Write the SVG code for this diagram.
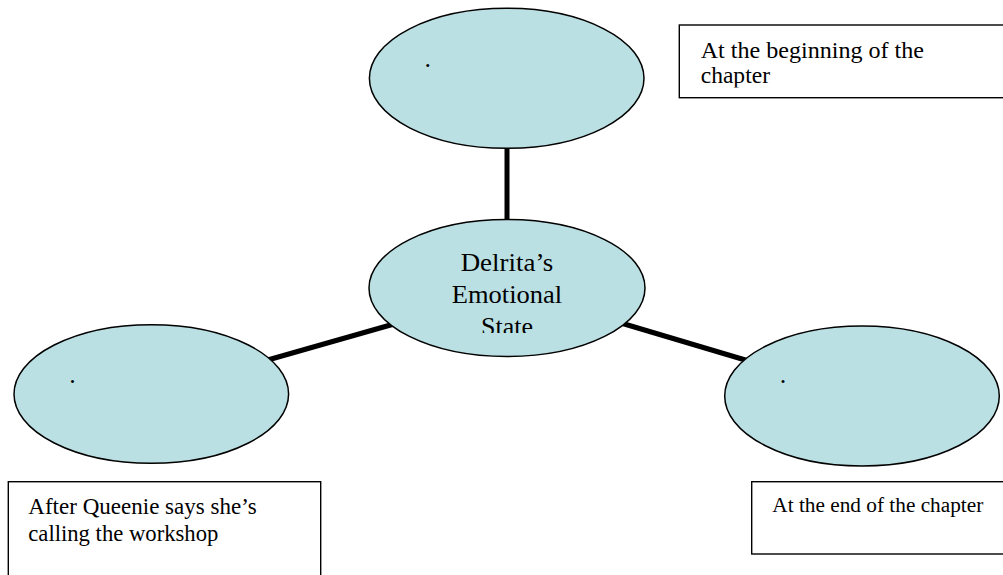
<svg xmlns="http://www.w3.org/2000/svg" width="1003" height="575" viewBox="0 0 1003 575" font-family="'Liberation Serif', 'Times New Roman', Times, serif">
<style>
.node ellipse{fill:#BBE0E3;stroke:#000;stroke-width:1.5}
.box rect{fill:#fff;stroke:#000;stroke-width:1.4}
.conn line{stroke:#000;stroke-width:5;stroke-linecap:butt}
</style>
<defs>
<clipPath id="clipCenter"><rect x="360" y="230" width="300" height="103"/></clipPath>
<clipPath id="clipTR"><rect x="680" y="26" width="330" height="61.5"/></clipPath>
</defs>
<rect width="1003" height="575" fill="#fff"/>
<g id="connectors" class="conn">
<line x1="507" y1="146" x2="507" y2="222"/>
<line x1="266" y1="360.5" x2="394" y2="324"/>
<line x1="621" y1="323" x2="747" y2="360.5"/>
</g>
<g id="node-top" class="node">
<ellipse cx="506.7" cy="78.3" rx="137.3" ry="70"/>
<text x="424.5" y="67" font-size="26">.</text>
</g>
<g id="node-center" class="node">
<ellipse cx="507" cy="288" rx="138" ry="68.5"/>
<g clip-path="url(#clipCenter)" font-size="26" text-anchor="middle">
<text x="507" y="271" textLength="92.7" lengthAdjust="spacingAndGlyphs">Delrita’s</text>
<text x="507" y="302.5" textLength="110.3" lengthAdjust="spacingAndGlyphs">Emotional</text>
<text x="507" y="334.5" textLength="52" lengthAdjust="spacingAndGlyphs">State</text>
</g>
</g>
<g id="node-left" class="node">
<ellipse cx="151.3" cy="394" rx="137.3" ry="69.3"/>
<text x="69.2" y="383.3" font-size="26">.</text>
</g>
<g id="node-right" class="node">
<ellipse cx="862" cy="396" rx="137.3" ry="70"/>
<text x="779.8" y="383.3" font-size="26">.</text>
</g>
<g id="label-top-right" class="box">
<rect x="679.3" y="25" width="340" height="72.7"/>
<g clip-path="url(#clipTR)" font-size="23">
<text x="700.7" y="57.5" textLength="223.3" lengthAdjust="spacingAndGlyphs">At the beginning of the</text>
<text x="700.7" y="83.3" textLength="69.3" lengthAdjust="spacingAndGlyphs">chapter</text>
</g>
</g>
<g id="label-bottom-left" class="box">
<rect x="8.3" y="481.7" width="312.4" height="110"/>
<text x="28.3" y="514" font-size="23" textLength="228.3" lengthAdjust="spacingAndGlyphs">After Queenie says she’s</text>
<text x="28.3" y="540.7" font-size="23" textLength="190" lengthAdjust="spacingAndGlyphs">calling the workshop</text>
</g>
<g id="label-bottom-right" class="box">
<rect x="751.7" y="481.7" width="270" height="72.3"/>
<text x="772.3" y="511.7" font-size="20.5" textLength="211" lengthAdjust="spacingAndGlyphs">At the end of the chapter</text>
</g>
</svg>
